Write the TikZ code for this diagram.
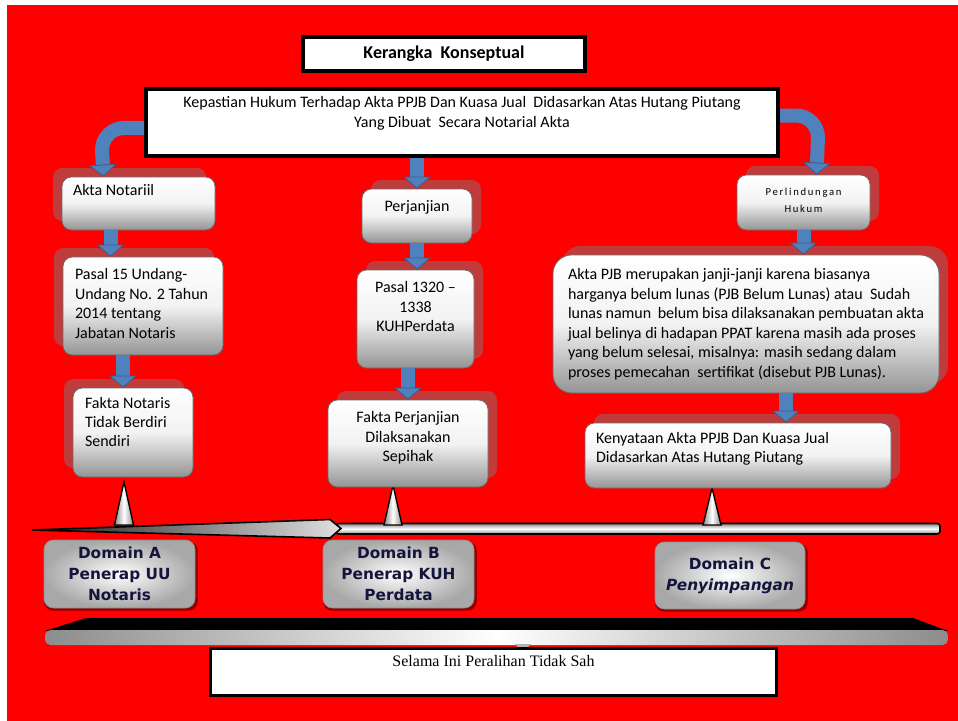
\documentclass[tikz,border=0pt]{standalone}
\usepackage{fontspec}
\setmainfont{Carlito}
\newfontfamily\domfont{DejaVu Sans}
\newfontfamily\serfont{Liberation Serif}
\usetikzlibrary{arrows.meta,shadows,calc}
\definecolor{bgred}{RGB}{255,0,0}
\definecolor{shred}{RGB}{192,60,60}
\definecolor{ablue}{RGB}{79,129,189}
\definecolor{aedge}{RGB}{56,93,138}
\definecolor{navy}{RGB}{20,20,60}
\definecolor{boxedge}{RGB}{105,105,105}
\definecolor{domsh}{RGB}{150,0,0}
\newcommand\tbox[4]{\parbox[c][#2][t]{#1}{\vspace*{#3}#4}}
\tikzset{
  gbox/.style={rounded corners=7pt, draw=boxedge, line width=0.6pt,
    top color=white, bottom color=black!42, middle color=black!5,
    inner ysep=0pt, font=\fontsize{12}{14.6}\selectfont},
  shL/.style={drop shadow={shadow xshift=-6.75pt, shadow yshift=6.75pt, fill=shred, opacity=1}},
  shR/.style={drop shadow={shadow xshift=6.75pt, shadow yshift=6.75pt, fill=shred, opacity=1}},
  framebox/.style={draw=black, fill=white, line width=3pt, inner sep=0pt},
  dombox/.style={rounded corners=7pt, inner color=white, outer color=black!34,
    draw=black!45, line width=0.4pt, minimum width=113.25pt, minimum height=51pt,
    align=center, text=navy, font=\domfont\bfseries\fontsize{11.5}{15.75}\selectfont,
    drop shadow={shadow xshift=1pt, shadow yshift=-1.5pt, shadow scale=1.02, fill=domsh, opacity=1}},
  blk/.style={draw=ablue, line width=10.5pt,
    -{Triangle[length=9pt,width=21pt,line width=0.6pt,color=aedge,fill=ablue]}},
  spike/.style={draw=black, line width=1pt, left color=black!45, right color=black!45, middle color=white},
}
\begin{document}
\begin{tikzpicture}[x=0.75pt,y=-0.75pt]
\useasboundingbox (0,0) rectangle (958,721);
\fill[bgred] (7,5) rectangle (958,721);

% bottom shelf
\fill[black] (86,618) -- (913,618) -- (948,631) -- (45,631) -- cycle;
\shade[left color=black!45, right color=black!45, middle color=white, rounded corners=4pt]
  (45,630) rectangle (948,645);
\fill[black!30] (515,644) -- (531,644) -- (523,652) -- cycle;

% long bar and wedge
\draw[rounded corners=2pt, draw=black, line width=1.2pt, top color=black!45, bottom color=black!45, middle color=white]
  (336,523.5) rectangle (940,534);
\draw[draw=black, line width=1.2pt, left color=black!90, right color=white!88!black]
  (32,530) -- (330,519.5) -- (341,528.5) -- (330,538) -- cycle;

% spikes
\draw[spike] (114.5,525) -- (124,482) -- (133.5,525) -- cycle;
\draw[spike] (384,525) -- (393,485) -- (402,525) -- cycle;
\draw[spike] (703,525) -- (712,488) -- (721,525) -- cycle;

% title and main boxes
\node[framebox, minimum width=211.5pt, minimum height=25.5pt,
  font=\bfseries\fontsize{13.5}{16}\selectfont] (title) at (444,54) {Kerangka\ \ Konseptual};
\node[framebox, font=\fontsize{12}{15}\selectfont] (main) at (462,122.5)
  {\tbox{474pt}{50.25pt}{3.3pt}{\centering\strut Kepastian Hukum Terhadap Akta PPJB Dan Kuasa Jual\ \ Didasarkan Atas Hutang Piutang\\Yang Dibuat\ \ Secara Notarial Akta}};

% left column
\node[gbox, shL, inner xsep=8.25pt] (akta) at (138.5,203.5)
  {\tbox{98.25pt}{39.75pt}{3.3pt}{\raggedright\strut Akta Notariil}};
\node[gbox, shL, inner xsep=9pt] (pasal15) at (143,306)
  {\tbox{102pt}{73.5pt}{7pt}{\raggedright\strut Pasal 15 Undang-\\Undang No. 2 Tahun\\2014 tentang\\Jabatan Notaris}};
\node[gbox, shL, inner xsep=9pt] (faktanot) at (133,432.5)
  {\tbox{72pt}{66.75pt}{4.8pt}{\raggedright\strut Fakta Notaris\\Tidak Berdiri\\Sendiri}};

% middle column
\node[gbox, shR, inner xsep=4.5pt] (perj) at (417,216)
  {\tbox{73.5pt}{40.5pt}{7pt}{\centering\strut Perjanjian}};
\node[gbox, shR, inner xsep=4.5pt] (pasal1320) at (415.5,319)
  {\tbox{78.75pt}{73.5pt}{7pt}{\centering\strut Pasal 1320 --\\1338\\KUHPerdata}};
\node[gbox, shR, inner xsep=4.5pt] (faktaperj) at (408,443.5)
  {\tbox{111pt}{65.25pt}{7pt}{\centering\strut Fakta Perjanjian\\Dilaksanakan\\Sepihak}};

% right column
\node[gbox, shR, inner xsep=4.5pt, font=\fontsize{8}{12.75}\selectfont\addfontfeatures{LetterSpace=16}] (perlind) at (803.5,202.5)
  {\tbox{90.75pt}{41.25pt}{6.5pt}{\centering\strut Perlindungan\\Hukum}};
\node[gbox, shR, rounded corners=14pt, inner xsep=11.25pt] (bigbox) at (746,324)
  {\tbox{267pt}{103.5pt}{8.5pt}{\raggedright\strut Akta PJB merupakan janji-janji karena biasanya\\harganya belum lunas (PJB Belum Lunas) atau\ \ Sudah\\lunas namun\ \ belum bisa dilaksanakan pembuatan akta\\jual belinya di hadapan PPAT karena masih ada proses\\yang belum selesai, misalnya: masih sedang dalam\\proses pemecahan\ \ sertifikat (disebut PJB Lunas).}};
\node[gbox, shR, inner xsep=8.25pt] (kenyataan) at (738,455.5)
  {\tbox{213pt}{48.75pt}{4.8pt}{\raggedright\strut Kenyataan Akta PPJB Dan Kuasa Jual\\Didasarkan Atas Hutang Piutang}};

% domain boxes
\node[dombox] (domA) at (119.5,574) {Domain A\\Penerap UU\\Notaris};
\node[dombox] (domB) at (398.5,574) {Domain B\\Penerap KUH\\Perdata};
\node[dombox, minimum width=112.5pt, minimum height=50.25pt] (domC) at (730,575.5) {Domain C\\\textit{Penyimpangan}};

% bottom text box
\node[draw=black, fill=white, line width=2pt, inner sep=0pt,
  drop shadow={shadow xshift=1.2pt, shadow yshift=-1.2pt, fill=black, opacity=1},
  font=\serfont\fontsize{12}{14.5}\selectfont] (selama) at (493.5,672)
  {\tbox{424.75pt}{35.5pt}{3.1pt}{\centering\strut Selama Ini Peralihan Tidak Sah}};

% arrows
\coordinate (cl) at ([yshift=-4.1pt]main.west);
\coordinate (cl2) at ([xshift=-26.25pt]akta.north);
\draw[blk] (cl) -- ++(-20,0) to[out=180,in=90] ++(-22,22) -- (cl2);
\coordinate (cr) at ([yshift=5.25pt]main.east);
\coordinate (cr2) at ([xshift=9.75pt]perlind.north);
\draw[blk] (cr) -- ++(16,0) to[out=0,in=90] ++(22,22) -- (cr2);

\draw[blk] (perj.north |- main.south) -- (perj.north);
\draw[blk] (perj.south) -- (perj.south |- pasal1320.north);
\draw[blk] (faktaperj.north |- pasal1320.south) -- (faktaperj.north);
\coordinate (c4) at ([xshift=-21pt]akta.south);
\draw[blk] (c4) -- (c4 |- pasal15.north);
\coordinate (c5) at ([xshift=-15pt]pasal15.south);
\draw[blk] (c5) -- (c5 |- faktanot.north);
\draw[blk] (perlind.south) -- (perlind.south |- bigbox.north);
\coordinate (c7) at ([xshift=30pt]bigbox.south);
\draw[blk] (c7) -- (c7 |- kenyataan.north);
\end{tikzpicture}
\end{document}
